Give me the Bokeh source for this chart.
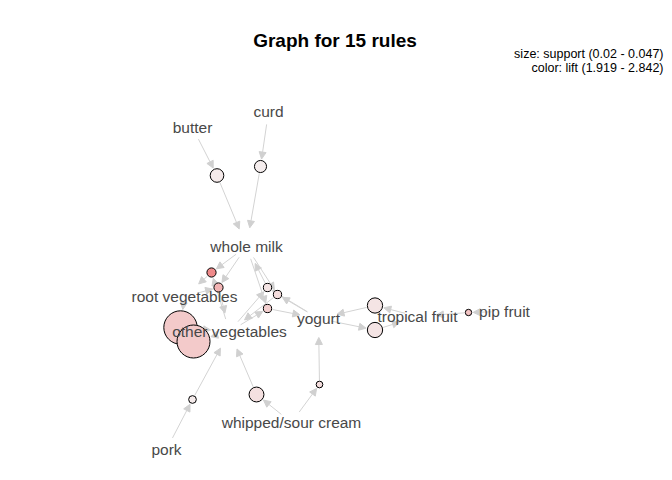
import math
from bokeh.plotting import figure
from bokeh.models import Range1d, Arrow, NormalHead, ColumnDataSource, Label
from bokeh.core.properties import value
from bokeh.embed import file_html
from bokeh.resources import INLINE

# ---- data ----
items = ["butter", "curd", "whole milk", "root vegetables", "other vegetables",
         "yogurt", "tropical fruit", "pip fruit", "whipped/sour cream", "pork"]
item_x = [192, 268, 246, 184, 229, 318, 417, 504, 291, 166]
item_y = [127, 111, 246, 296, 331, 318, 316, 311, 422, 449]

rule_lhs = [["butter"], ["curd"], ["whole milk", "other vegetables"],
            ["whole milk", "root vegetables"], ["other vegetables", "yogurt"],
            ["whole milk", "yogurt"], ["other vegetables", "whole milk"],
            ["root vegetables"], ["other vegetables"], ["tropical fruit"],
            ["yogurt"], ["pip fruit"], ["whipped/sour cream"],
            ["whipped/sour cream"], ["pork"]]
rule_rhs = ["whole milk", "whole milk", "root vegetables", "other vegetables",
            "whole milk", "other vegetables", "yogurt", "other vegetables",
            "root vegetables", "yogurt", "tropical fruit", "tropical fruit",
            "other vegetables", "yogurt", "other vegetables"]
support = [0.0276, 0.0261, 0.0232, 0.0232, 0.0223, 0.0223, 0.0223, 0.0474,
           0.0470, 0.0293, 0.0293, 0.0204, 0.0289, 0.0207, 0.0217]
lift = [1.946, 1.919, 2.842, 2.446, 2.004, 2.069, 2.199, 2.246, 2.246,
        2.000, 2.000, 2.300, 2.040, 2.070, 1.940]
rule_x = [216.5, 260, 211, 218, 267, 277, 267, 180, 193, 374.5, 374.5, 468, 256, 319, 192]
rule_y = [175, 166, 272, 287, 287, 294, 308, 327, 341, 305, 329.5, 312, 394, 384, 399]

title_text = "Graph for 15 rules"
legend_lines = ["size: support (0.02 - 0.047)", "color: lift (1.919 - 2.842)"]

# ---- derived ----
smin, smax = 0.02, 0.047
lmin, lmax = 1.919, 2.842
radius = [3 + (s - smin) / (smax - smin) * 13.5 for s in support]
light = (245, 237, 237)
dark = (239, 138, 138)


def lift_color(l):
    t = max(0.0, min(1.0, (l - lmin) / (lmax - lmin)))
    c = [round(light[i] + t * (dark[i] - light[i])) for i in range(3)]
    return "#%02x%02x%02x" % tuple(c)


colors = [lift_color(l) for l in lift]
ipos = {n: (x, y) for n, x, y in zip(items, item_x, item_y)}

ITEM_START, ITEM_END = 13, 19
x0, y0, x1, y1 = [], [], [], []


def add_edge(p0, p1, s0, s1):
    dx, dy = p1[0] - p0[0], p1[1] - p0[1]
    d = math.hypot(dx, dy)
    ux, uy = dx / d, dy / d
    x0.append(p0[0] + ux * s0)
    y0.append(p0[1] + uy * s0)
    x1.append(p1[0] - ux * s1)
    y1.append(p1[1] - uy * s1)


for k in range(len(rule_x)):
    rp = (rule_x[k], rule_y[k])
    for it in rule_lhs[k]:
        add_edge(ipos[it], rp, ITEM_START, radius[k] + 1.5)
    add_edge(rp, ipos[rule_rhs[k]], radius[k] + 1, ITEM_END)

# ---- figure ----
p = figure(width=664, height=464, output_backend="svg", toolbar_location=None,
           x_range=Range1d(0, 664), y_range=Range1d(464, 0),
           x_axis_type=None, y_axis_type=None, min_border=0)
p.grid.visible = False
p.outline_line_color = None
p.background_fill_color = "white"

esrc = ColumnDataSource(dict(x0=x0, y0=y0, x1=x1, y1=y1))
arrow = Arrow(end=NormalHead(size=7, fill_color="#d0d0d0", line_color="#d0d0d0", line_width=1),
              x_start="x0", y_start="y0", x_end="x1", y_end="y1", source=esrc,
              line_color="#d3d3d3", line_width=1, level="underlay")
p.add_layout(arrow)

rsrc = ColumnDataSource(dict(x=rule_x, y=rule_y, size=[2 * r for r in radius], color=colors))
p.scatter("x", "y", size="size", source=rsrc, fill_color="color",
          line_color="black", line_width=1)

isrc = ColumnDataSource(dict(x=item_x, y=item_y, text=items))
p.text("x", "y", text="text", source=isrc, text_align="center", text_baseline="middle",
       text_font=value("Liberation Sans"), text_font_size="15.5px", text_color="#484848")

p.add_layout(Label(x=334.5, y=40, text=title_text, text_align="center", text_baseline="middle",
                   text_font="Liberation Sans", text_font_size="19px", text_font_style="bold",
                   text_color="black"))
for i, t in enumerate(legend_lines):
    p.add_layout(Label(x=663, y=53 + 14 * i, text=t, text_align="right", text_baseline="middle",
                       text_font="Liberation Sans", text_font_size="12.5px", text_color="black"))

open("out.html", "w").write(file_html(p, INLINE))
